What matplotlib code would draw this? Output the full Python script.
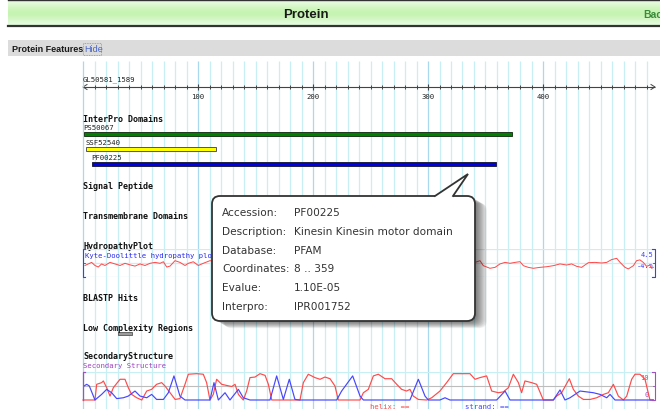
import numpy as np
import matplotlib
matplotlib.use('Agg')
import matplotlib.pyplot as plt
from matplotlib.patches import Rectangle, FancyBboxPatch, Polygon

# ---- data ----
seq_name = 'GL50581_1589'
ruler_labels = [100, 200, 300, 400]
grid_step = 10
grid_last = 490
ruler_end = 497

domain_names = ['PS50067', 'SSF52540', 'PF00225']
domain_start = [1, 3, 8]
domain_end = [373, 116, 359]
domain_colors = ['#008000', '#ffff00', '#0000e6']
domain_edges = ['#1e3a1e', '#555555', '#222244']

lowcomp_start = [30]
lowcomp_end = [43]

hyd_pos = [1.7, 4.6, 7.5, 10.4, 13.3, 16.2, 19.1, 23.5, 27.8, 32.2, 36.5, 40.9, 45.2,
           49.6, 53.9, 58.3, 62.6, 67, 69.9, 72.8, 75.7, 80, 84.3, 88.7, 91.6, 95.9,
           100.3, 104.6, 110.4, 130, 160, 200, 240, 280, 320,
           340.9, 345.2, 348.1, 353.9, 358.3, 362.6, 367, 371.3, 375.7, 380, 382.9,
           387.2, 391.6, 397.4, 403.2, 409, 414.8, 420.6, 424.9, 429.3, 433.6, 439.4,
           445.2, 451, 455.4, 459.7, 464.1, 467, 471.3, 474.2, 478.6, 481.4, 484.3,
           487.2, 490.1, 493, 494.5, 495.9]
hyd_val = [-0.8, -0.3, 0.2, -0.8, -1.3, -0.3, -0.8, 0.2, -0.3, -0.8, -0.1, -0.6, -1.0,
           -0.3, -0.8, -0.1, 0.2, -0.1, 0.4, -1.3, -1.0, 0.75, 0.2, -0.8, -0.1, 0.4,
           -0.8, -0.1, 0.75, -0.3, 0.2, -0.5, 0.3, -0.4, 0.1,
           0.2, 0.75, -0.86, -1.7, -1.4, -0.3, 0.2, -0.1, 0.2, 0.43, -0.86,
           -1.4, -1.7, -1.4, -1.2, -0.86, -0.3, -0.65, -0.3, -1.08, -1.4, 0.1,
           0.2, 0.0, 0.2, 1.1, 1.5, 0.2, -1.4, -1.9, -0.86, 0.75, 1.0,
           0.2, -1.08, -0.65, -1.7, -1.4]

helix_pos = [0, 10.4, 11.9, 16.2, 17.7, 20.6, 23.5, 26.4, 32.2, 36.5, 39.4, 42.3, 46.7,
             51.1, 55.4, 59.7, 64, 68.4, 71.3, 75.7, 80.1, 84.3, 88.7, 91.6, 98.8,
             104.6, 107.5, 110.4, 113.3, 116.2, 120.6, 124.9, 129.3, 132.2, 135.1,
             139.4, 142.3, 145.2, 149.6, 153.9, 158.3, 161.2, 164.1, 188.7, 191.6,
             195.9, 201.7, 206.1, 210.4, 214.8, 219.1, 222, 240.9, 243.8, 248.1,
             252.5, 256.8, 262.6, 268.4, 272.8, 277.1, 281.4, 284.3, 287.2, 291.6,
             298.8, 303.2, 310.4, 316.2, 322, 336.5, 340.9, 345.2, 351, 355.4, 361.2,
             365.5, 369.9, 374.2, 378.6, 381.4, 384.3, 390.1, 394.5, 400.3, 409,
             411.9, 416.2, 422.9, 426.4, 430.7, 435.1, 440.9, 446.7, 452.5, 456.8,
             461.2, 465.5, 469.9, 472.8, 477.1, 480, 484.3, 488.7, 493, 495.9]
helix_val = [0, 0, 5.6, 6.2, 6.8, 4.4, 1.4, 4.4, 7.4, 7.4, 4.4, 2.0, 0.8,
             0, 3.2, 3.8, 5.6, 6.2, 5.0, 2.6, 0.2, 0.5, 5.6, 9.2, 9.4,
             9.2, 6.2, 0, 2.0, 7.4, 5.6, 5.2, 4.8, 5.6, 2.0,
             0, 3.2, 8.0, 8.2, 9.4, 8.8, 5.6, 0, 0, 6.2,
             9.2, 8.0, 7.4, 8.2, 7.6, 5.0, 0, 0, 2.6, 3.8,
             8.6, 9.2, 7.6, 7.6, 5.6, 3.8, 3.2, 3.8, 1.4, 0.2,
             0, 0.8, 3.2, 6.2, 9.4, 9.4, 7.4, 8.0, 8.6, 3.2, 2.6,
             2.9, 4.4, 9.2, 6.2, 2.6, 6.8, 6.2, 5.6, 0, 0,
             1.4, 2.6, 7.6, 3.8, 1.4, 0.2, 0.2, 0.8, 2.0, 2.6,
             5.6, 1.4, 0, 1.4, 7.4, 9.2, 9.2, 7.4, 0, 0]

strand_pos = [0.9, 3.2, 5.5, 10.4, 16.2, 20.6, 24.9, 29.3, 35.1, 39.4, 45.2, 49.6,
              55.4, 59.7, 64, 69.9, 74.2, 79.1, 84.3, 88.7, 110.4, 113.9, 117.7,
              123.5, 127.8, 135.1, 139.4, 145.2, 162.6, 168.4, 174.2, 179.4, 184.3,
              188.7, 220.6, 224.9, 234.5, 240.9, 243.8, 284.3, 291.6, 297.4, 300.3,
              310.4, 314.8, 319.1, 359.7, 367, 371.3, 409, 414.8, 419.1, 423.5,
              432.2, 438, 443.8, 449.6, 455.4, 458.3, 462.6, 495.9]
strand_val = [5.0, 5.6, 5.0, 0, 2.0, 3.8, 2.6, 0.5, 0.8, 1.4, 3.2, 1.4,
              0.8, 2.0, 0.2, 0.2, 2.6, 8.6, 1.4, 0, 0, 6.2, 0,
              2.6, 0, 3.8, 0.8, 0, 0, 8.6, 0.2, 7.4, 0.2,
              0, 0, 3.2, 8.6, 1.4, 0, 0, 7.4, 1.4, 0,
              0, 0.8, 0, 0, 3.2, 0, 0, 3.6, 0, 0.8,
              3.2, 2.9, 2.6, 2.0, 0.8, 2.0, 0, 0]

tip_labels = ['Accession:', 'Description:', 'Database:', 'Coordinates:', 'Evalue:', 'Interpro:']
tip_values = ['PF00225', 'Kinesin Kinesin motor domain', 'PFAM', '8 .. 359', '1.10E-05', 'IPR001752']

# ---- page geometry (pixels) ----
W, H = 660, 410
X0 = 83          # pixel of residue 0
PX = 1.15        # pixels per residue
MONO = 'DejaVu Sans Mono'
grid_c = '#c8eff4'
grid_major = '#a9d9ef'

fig = plt.figure(figsize=(6.6, 4.1), dpi=100)

# base axes in pixels: header bars
base = fig.add_axes([0, 0, 1, 1])
base.set_xlim(0, W)
base.set_ylim(H, 0)
base.axis('off')

grad = np.array([[0.91, 0.99, 0.88], [0.84, 0.97, 0.78], [0.78, 0.96, 0.70],
                 [0.77, 0.96, 0.69], [0.84, 0.97, 0.79], [0.90, 0.99, 0.87]])
base.imshow(grad[:, None, :], extent=(8, W, 27, 1.5), aspect='auto', interpolation='bicubic')
base.set_xlim(0, W)
base.set_ylim(H, 0)
base.plot([8, W], [1.2, 1.2], color='#333333', lw=1.0)
base.plot([8, W], [27.2, 27.2], color='#333333', lw=1.6)
base.text(306, 14.5, 'Protein', family='Liberation Sans', weight='bold', fontsize=9.5,
          ha='center', va='center', color='#1a1a1a')
# "Back" link is cut by the right edge in the original page
base.text(643, 14.5, 'Back', family='Liberation Sans', weight='bold', fontsize=7.5,
          ha='left', va='center', color='#3b8a3b', clip_on=True)

base.add_patch(Rectangle((8, 41), W - 8, 16, facecolor='#dcdcdc', edgecolor='none'))
base.text(12, 49.5, 'Protein Features', family='Liberation Sans', weight='bold',
          fontsize=6.5, ha='left', va='center', color='#1a1a1a')
base.text(84, 49.5, 'Hide', family='Liberation Sans', fontsize=6.5, ha='left',
          va='center', color='#4a66c8')
base.add_patch(Rectangle((82.5, 43.5), 18.5, 12, facecolor='none', edgecolor='#8a8ad0',
                         lw=0.6, linestyle=(0, (1, 1))))

# track axes: x in residues, y in pixels
trk = fig.add_axes([0, 0, 1, 1])
trk.set_xlim(-X0 / PX, (W - X0) / PX)
trk.set_ylim(H, 0)
trk.axis('off')
trk.patch.set_alpha(0)

for p in range(0, grid_last + 1, grid_step):
    c = grid_major if p % 100 == 0 else grid_c
    trk.vlines(p, 62, H, color=c, lw=0.9, zorder=0)

trk.text(0, 79.5, seq_name, family=MONO, fontsize=5.2, ha='left', va='center', color='#222222')
trk.hlines(88, 0, ruler_end, color='#444444', lw=0.8)
for p in range(grid_step, grid_last + 1, grid_step):
    if p % 100 == 0:
        trk.vlines(p, 84.5, 91, color='#444444', lw=0.8)
    else:
        trk.vlines(p, 86.3, 90, color='#444444', lw=0.7)
for lab in ruler_labels:
    trk.text(lab, 97, str(lab), family=MONO, fontsize=5.2, ha='center', va='center', color='#222222')
base.plot([87, 83, 87], [85.5, 88, 90.5], color='#444444', lw=0.7)
base.plot([651, 655, 651], [85.5, 88, 90.5], color='#444444', lw=0.7)

titles = ['InterPro Domains', 'Signal Peptide', 'Transmembrane Domains', 'HydropathyPlot',
          'BLASTP Hits', 'Low Complexity Regions', 'SecondaryStructure']
title_y = [119.5, 187, 217, 247, 299, 329, 357]
for t, y in zip(titles, title_y):
    trk.text(0, y, t, family=MONO, weight='bold', fontsize=6, ha='left', va='center', color='#111111')

label_y = [128.5, 143.5, 158.5]
bar_y = [133.2, 148.2, 163.2]
for name, s, e, c, ec, ly, by in zip(domain_names, domain_start, domain_end, domain_colors,
                                     domain_edges, label_y, bar_y):
    trk.text(s - 1, ly, name, family=MONO, fontsize=5.2, ha='left', va='center', color='#222222')
    trk.add_patch(Rectangle((s, by), e - s, 3.6, facecolor=c, edgecolor=ec, lw=0.7))

for s, e in zip(lowcomp_start, lowcomp_end):
    trk.add_patch(Rectangle((s, 333.2), e - s, 3.2, facecolor='#9a9a9a', edgecolor='#555555', lw=0.6))

trk.text(2, 256.5, 'Kyte-Doolittle hydropathy plot', family=MONO, fontsize=5.2,
         ha='left', va='center', color='#2a2af0')
trk.text(0, 366, 'Secondary Structure', family=MONO, fontsize=5.2, ha='left',
         va='center', color='#a040c0')

# hydropathy plot
hyd = fig.add_axes([0, 1 - 278 / H, 1, 28 / H])
hyd.set_xlim(-X0 / PX, (W - X0) / PX)
hyd.set_ylim(-4.5, 4.5)
hyd.axis('off')
hyd.patch.set_alpha(0)
for v in (4.5, 0, -4.5):
    hyd.hlines(v, 0, ruler_end, color=grid_c, lw=0.9, zorder=0)
hyd.plot(hyd_pos, hyd_val, color='#ff4848', lw=0.7)
bl = '#3c3cff'
hyd.plot([2, 0, 0, 2], [4.5, 4.5, -4.5, -4.5], color=bl, lw=0.8, clip_on=False)
hyd.plot([0, 1.5], [0, 0], color=bl, lw=0.6)
hyd.plot([ruler_end - 2, ruler_end, ruler_end, ruler_end - 2], [4.5, 4.5, -4.5, -4.5],
         color=bl, lw=0.8, clip_on=False)
hyd.plot([ruler_end - 1.5, ruler_end], [0, 0], color=bl, lw=0.6)
trk.text(ruler_end - 1.2, 255, '4.5', family=MONO, fontsize=5, ha='right', va='center', color=bl)
trk.text(ruler_end - 0.5, 266, '-4.5', family=MONO, fontsize=5, ha='right', va='center', color=bl)

# secondary structure plot
sec = fig.add_axes([0, 1 - 401 / H, 1, 28 / H])
sec.set_xlim(-X0 / PX, (W - X0) / PX)
sec.set_ylim(0, 10)
sec.axis('off')
sec.patch.set_alpha(0)
sec.hlines(10, 0, ruler_end, color=grid_c, lw=0.9, zorder=0)
sec.hlines(5, 0, ruler_end, color='#bdbdbd', lw=0.8, zorder=0)
sec.hlines(0, 0, ruler_end, color=grid_c, lw=0.9, zorder=0)
sec.plot(helix_pos, helix_val, color='#ff4a4a', lw=0.85, clip_on=False, solid_joinstyle='round')
sec.plot(strand_pos, strand_val, color='#4646ff', lw=0.85, clip_on=False, solid_joinstyle='round')
pu = '#a050c0'
sec.plot([1.5, 0, 0], [10, 10, 0], color=pu, lw=0.9, clip_on=False)
sec.plot([ruler_end - 2, ruler_end, ruler_end, ruler_end - 2], [10, 10, 0, 0], color=pu, lw=0.8, clip_on=False)
sec.plot([ruler_end - 1.5, ruler_end], [5, 5], color=pu, lw=0.6)
trk.text(ruler_end - 5, 378, '10', family=MONO, fontsize=5, ha='right', va='center', color=pu)
trk.text(ruler_end - 5, 395.5, '0', family=MONO, fontsize=5, ha='right', va='center', color=pu)

trk.text(250, 404, 'helix: ==', family=MONO, fontsize=5.2, ha='left', va='top', color='#ff4a4a')
trk.text(332, 404, 'strand: ==', family=MONO, fontsize=5.2, ha='left', va='top', color='#4646ff')

# tooltip on top
tip = fig.add_axes([0, 0, 1, 1])
tip.set_xlim(0, W)
tip.set_ylim(H, 0)
tip.axis('off')
tip.patch.set_alpha(0)
bx, by, bw, bh = 212, 197, 263, 125
for i in range(1, 13):
    tip.add_patch(FancyBboxPatch((bx + i, by + i * 0.6), bw, bh, boxstyle='round,pad=0,rounding_size=8',
                                 facecolor='#000000', edgecolor='none', alpha=0.055))
tip.add_patch(FancyBboxPatch((bx, by), bw, bh, boxstyle='round,pad=0,rounding_size=8',
                             facecolor='white', edgecolor='#333333', lw=1.3))
tip.add_patch(Polygon([[435, 199], [435, 197], [468, 175], [453, 197], [453, 199]],
                      closed=True, facecolor='white', edgecolor='none'))
tip.plot([435, 468, 453], [197, 175, 197], color='#333333', lw=1.3, solid_joinstyle='miter')
row_y = [213, 232, 251, 269.5, 288, 307]
for lab, val, y in zip(tip_labels, tip_values, row_y):
    tip.text(222, y, lab, fontsize=7.6, ha='left', va='center', color='#333333')
    tip.text(294, y, val, fontsize=7.6, ha='left', va='center', color='#333333')

fig.savefig('out.png', dpi=100)
